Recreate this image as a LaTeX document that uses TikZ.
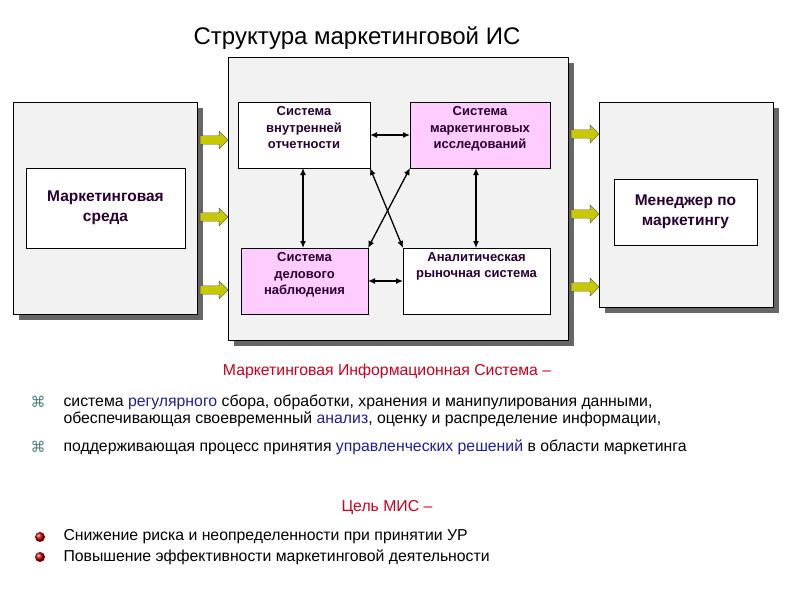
\documentclass[tikz,border=0pt]{standalone}
\usepackage{fontspec}
\setmainfont{Liberation Sans}
\newfontfamily\djv{DejaVu Sans}
\usetikzlibrary{arrows.meta,shapes.arrows}
\definecolor{panel}{RGB}{242,242,242}
\definecolor{pinkb}{RGB}{255,204,255}
\definecolor{txtp}{RGB}{40,0,50}
\definecolor{ylw}{RGB}{200,200,0}
\definecolor{redt}{RGB}{200,0,30}
\definecolor{bluet}{RGB}{30,30,150}
\tikzset{
 panelbox/.style={draw=black,fill=panel,line width=0.6pt},
 shadowbox/.style={fill=gray!80!black},
 sysbox/.style={draw=black,line width=0.7pt,fill=white},
 systxt/.style={font=\bfseries\fontsize{13}{16.5}\selectfont,text=txtp,align=center,anchor=north},
 bigtxt/.style={font=\bfseries\fontsize{15.5}{20}\selectfont,text=txtp,align=center},
 dbl/.style={{Latex[length=7pt,width=6pt]}-{Latex[length=7pt,width=6pt]},line width=1.3pt},
 yarrow/.style={single arrow,draw=black!70,fill=ylw,minimum height=28pt,minimum width=18pt,single arrow head extend=2.5pt,inner sep=2pt,line width=0.4pt},
 body/.style={font=\fontsize{15.8}{19}\selectfont,anchor=west}
}
\begin{document}
\begin{tikzpicture}[x=1pt,y=-1pt]
\useasboundingbox (0,0) rectangle (794,595);
% title
\node[font=\fontsize{24}{28}\selectfont] (title) at (357,38) {Структура маркетинговой ИС};
% shadows
\fill[shadowbox] (19,108) rectangle (203,320);
\fill[shadowbox] (234,63) rectangle (574,346);
\fill[shadowbox] (605,108) rectangle (779,313);
% panels
\draw[panelbox] (13,102) rectangle (197,314);
\draw[panelbox] (228,57) rectangle (568,340);
\draw[panelbox] (599,102) rectangle (773,307);
% inner outer boxes
\draw[sysbox] (26,168) rectangle (185,248);
\node[bigtxt] (env) at (105.5,208) {Маркетинговая\\среда};
\draw[sysbox] (614,179) rectangle (757,245);
\node[bigtxt] (mgr) at (685.5,212) {Менеджер по\\маркетингу};
% system boxes
\draw[sysbox] (238,102) rectangle (370,168);
\node[systxt] (io) at (304,103) {Система\\внутренней\\отчетности};
\draw[sysbox,fill=pinkb] (410,102) rectangle (550,168);
\node[systxt] (mr) at (480,103) {Система\\маркетинговых\\исследований};
\draw[sysbox,fill=pinkb] (241,248) rectangle (368,314);
\node[systxt] (bo) at (304.5,249) {Система\\делового\\наблюдения};
\draw[sysbox] (403,248) rectangle (550,314);
\node[systxt] (am) at (476.5,249) {Аналитическая\\рыночная система};
% connector anchors
\coordinate (ioR) at (370,135); \coordinate (mrL) at (410,135);
\coordinate (boR) at (368,281); \coordinate (amL) at (403,281);
\coordinate (ioB) at (303,168); \coordinate (boT) at (303,248);
\coordinate (mrB) at (476,168); \coordinate (amT) at (476,248);
\coordinate (ioBR) at (370,168); \coordinate (amTL) at (403,248);
\coordinate (mrBL) at (410,168); \coordinate (boTR) at (368,248);
\draw[dbl] (ioR) -- (mrL);
\draw[dbl] (boR) -- (amL);
\draw[dbl] (ioB) -- (boT);
\draw[dbl] (mrB) -- (amT);
\draw[dbl] (ioBR) -- (amTL);
\draw[dbl] (mrBL) -- (boTR);
% yellow arrows
\foreach \y/\n in {140/l1,217/l2,290/l3} \node[yarrow] (\n) at (212,\y) {};
\foreach \y/\n in {134/r1,214/r2,287/r3} \node[yarrow] (\n) at (583,\y) {};
% text
\node[font=\fontsize{15.8}{19}\selectfont,text=redt] (mis) at (387,371) {Маркетинговая Информационная Система –};
\node[font=\djv\fontsize{15}{17}\selectfont,text=gray!60!teal] (b1) at (38,402) {⌘};
\node[font=\djv\fontsize{15}{17}\selectfont,text=gray!60!teal] (b2) at (38,447) {⌘};
\node[body] (t1) at (60,402) {система \textcolor{bluet}{регулярного} сбора, обработки, хранения и манипулирования данными,};
\node[body] (t2) at (60,419) {обеспечивающая своевременный \textcolor{bluet}{анализ}, оценку и распределение информации,};
\node[body] (t3) at (60,447) {поддерживающая процесс принятия \textcolor{bluet}{управленческих решений} в области маркетинга};
\node[font=\fontsize{15.8}{19}\selectfont,text=redt] (goal) at (387,508) {Цель МИС –};
\shade[ball color=red!75!black] (40,537) circle (5);
\shade[ball color=red!75!black] (40,557) circle (5);
\node[body] (g1) at (60,537) {Снижение риска и неопределенности при принятии УР};
\node[body] (g2) at (60,557) {Повышение эффективности маркетинговой деятельности};
\end{tikzpicture}
\end{document}
